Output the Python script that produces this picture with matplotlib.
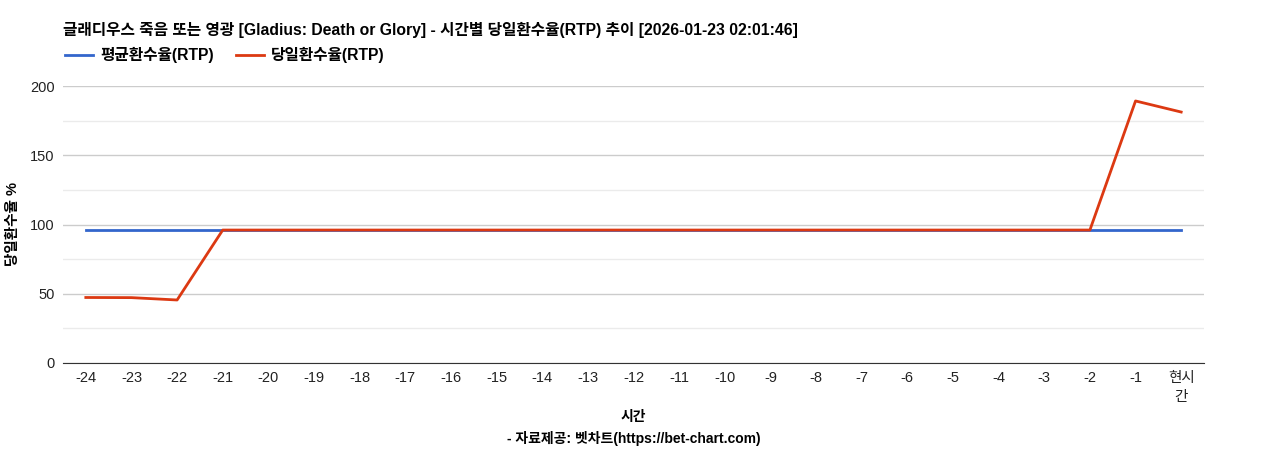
import matplotlib
matplotlib.use("Agg")
import matplotlib.pyplot as plt
from matplotlib.ticker import MultipleLocator

plt.rcParams["font.family"] = ["Liberation Sans", "Noto Sans CJK KR", "DejaVu Sans"]

# data
hours = ["-24", "-23", "-22", "-21", "-20", "-19", "-18", "-17", "-16", "-15",
         "-14", "-13", "-12", "-11", "-10", "-9", "-8", "-7", "-6", "-5",
         "-4", "-3", "-2", "-1", "현시\n간"]
avg_rtp = [96.0, 96.0, 96.0, 96.0, 96.0, 96.0, 96.0, 96.0, 96.0, 96.0,
           96.0, 96.0, 96.0, 96.0, 96.0, 96.0, 96.0, 96.0, 96.0, 96.0,
           96.0, 96.0, 96.0, 96.0, 96.0]
daily_rtp = [47.3, 47.2, 45.5, 96.0, 96.0, 96.0, 96.0, 96.0, 96.0, 96.0,
             96.0, 96.0, 96.0, 96.0, 96.0, 96.0, 96.0, 96.0, 96.0, 96.0,
             96.0, 96.0, 96.0, 189.2, 181.2]

title = "글래디우스 죽음 또는 영광 [Gladius: Death or Glory] - 시간별 당일환수율(RTP) 추이 [2026-01-23 02:01:46]"

fig = plt.figure(figsize=(12.68, 4.5), dpi=100)
ax = fig.add_axes([63 / 1268, 1 - 363 / 450, (1204 - 63) / 1268, (363 - 86) / 450])

x = list(range(len(hours)))
l1, = ax.plot(x, avg_rtp, color="#3366cc", lw=2, label="평균환수율(RTP)")
l2, = ax.plot(x, daily_rtp, color="#dc3912", lw=2, label="당일환수율(RTP)")

ax.set_xlim(-0.5, len(hours) - 0.5)
ax.set_ylim(0, 200)
ax.yaxis.set_major_locator(MultipleLocator(50))
ax.yaxis.set_minor_locator(MultipleLocator(25))
ax.grid(axis="y", which="major", color="#cccccc", lw=1)
ax.grid(axis="y", which="minor", color="#ebebeb", lw=1)
ax.set_axisbelow(True)
ax.set_xticks(x)
ax.set_xticklabels(hours, fontsize=10.5, color="#222222", linespacing=1.45)
ax.tick_params(axis="y", labelsize=10.5, colors="#222222", length=0, pad=6)
ax.tick_params(axis="x", length=0, pad=6)
ax.tick_params(axis="y", which="minor", length=0)
for s in ["top", "right", "left"]:
    ax.spines[s].set_visible(False)
ax.spines["bottom"].set_color("#333333")

# y axis title sits at the far left edge
fig.text(13 / 1268, 1 - 224 / 450, "당일환수율 %", rotation=90, fontsize=10.5,
         fontweight="bold", ha="center", va="center")
ax.set_xlabel("시간\n- 자료제공: 벳차트(https://bet-chart.com)", fontsize=10,
              fontweight="bold", labelpad=4, linespacing=1.6)

fig.text(63 / 1268, 1 - 30 / 450, title, fontsize=11.3, fontweight="bold",
         va="center", ha="left")
fig.legend(handles=[l1, l2], loc="center left", bbox_to_anchor=(51 / 1268, 1 - 55 / 450),
           ncol=2, frameon=False, handlelength=1.75, handletextpad=0.5,
           columnspacing=1.4, prop={"weight": "bold", "size": 11.3})

fig.savefig("out.png", dpi=100)
